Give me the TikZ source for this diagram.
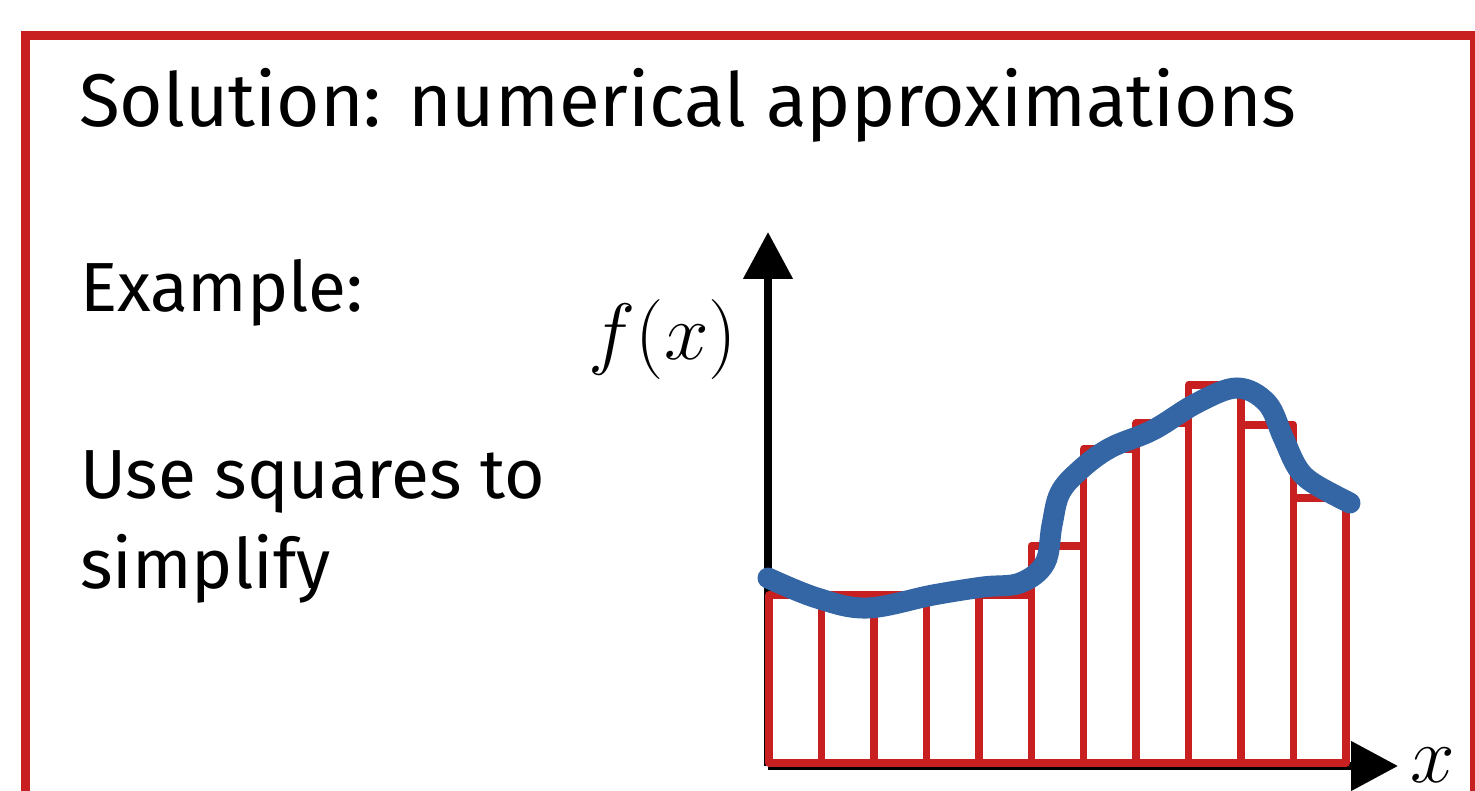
\RequirePackage{fix-cm}
\documentclass[tikz,border=0pt]{standalone}
\usepackage{fontspec}
\setmainfont{Fira Sans}
\usepackage{tikz}
\usetikzlibrary{arrows.meta}

\definecolor{framered}{RGB}{200,32,32}
\definecolor{curveblue}{RGB}{52,101,164}

\begin{document}
\begin{tikzpicture}[
    x=1pt, y=-1pt,
    frame/.style={draw=framered,line width=9pt},
    bar/.style={draw=framered,line width=7.5pt,line join=round},
    axis/.style={draw=black,line width=8pt,-{Triangle[length=47pt,width=48pt]}},
    curve/.style={draw=curveblue,line width=21pt,line cap=round},
    heading/.style={anchor=base west,inner sep=0pt,font=\fontsize{74.6}{90}\selectfont},
    body/.style={anchor=base west,inner sep=0pt,align=left,
      font=\fontsize{69.5}{90}\selectfont},
    lbl/.style={inner sep=0pt,font=\fontsize{80}{80}\selectfont}
  ]
  \useasboundingbox (0,0) rectangle (1475,791);
  \clip (0,0) rectangle (1475,791);
  \draw[frame] (25.5,35.5) rectangle (1474,830);

  % text on the left
  \node[heading] (title) at (79,127) {Solution: numerical approximations};
  \node[body] (example) at (80,312) {Example:};
  \node[body] (use) at (80,588) {Use squares to\\simplify};

  % axes
  \coordinate (origin) at (768,766);
  \coordinate (ytip) at (768,232);
  \coordinate (xtip) at (1398,766);
  \draw[axis] (origin) -- (ytip);
  \draw[axis] (origin) -- (xtip);
  \node[lbl] (fx) at (663,340) {$f(x)$};
  \node[lbl,anchor=base west] (xl) at (1410,782) {$x$};

  % squares
  \foreach \t [count=\i from 0] in {595,595,595,595,595,546,449,423,385,425,498}
    \draw[bar] ({769+52.45*\i},763) rectangle ({769+52.45*(\i+1)},\t);

  % the function
  \draw[curve] plot[smooth,tension=0.6] coordinates {(768,578) (817,598) (867,608)
    (933,595) (983,587) (1020,583) (1045,563) (1052,525) (1060,493) (1080,470)
    (1110,448) (1153,430) (1197,403) (1237,388) (1267,403) (1283,437) (1297,467)
    (1313,483) (1350,503)};
\end{tikzpicture}
\end{document}
